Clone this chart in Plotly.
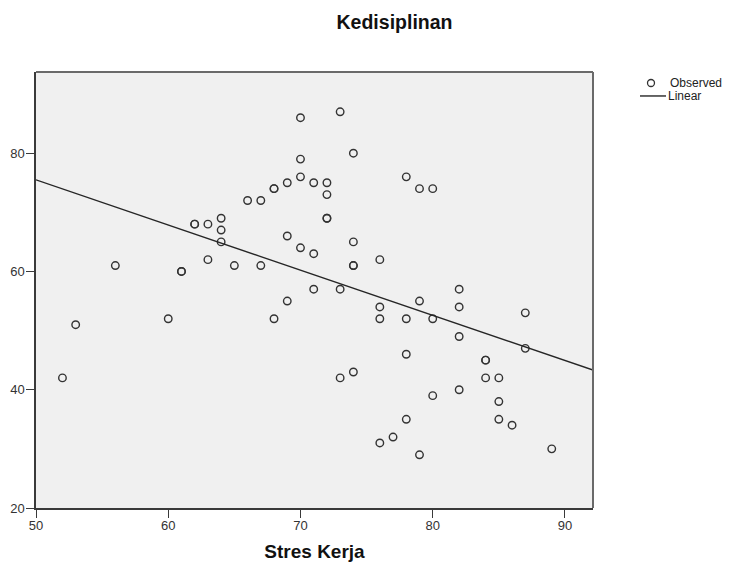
import numpy as np
import plotly.graph_objects as go

# Stres Kerja (x) vs Kedisiplinan (y)
stres_kerja = [52, 53, 56, 60, 61, 61, 62, 62, 63, 63, 64, 64, 64, 65, 66, 67, 67,
               68, 68, 68, 69, 69, 69, 70, 70, 70, 70, 71, 71, 71, 72, 72, 72, 72,
               73, 73, 73, 74, 74, 74, 74, 74, 76, 76, 76, 76, 77, 78, 78, 78, 78,
               79, 79, 79, 80, 80, 80, 82, 82, 82, 82, 84, 84, 84, 85, 85, 85, 86,
               87, 87, 89]
kedisiplinan = [42, 51, 61, 52, 60, 60, 68, 68, 68, 62, 69, 67, 65, 61, 72, 72, 61,
                74, 74, 52, 75, 66, 55, 86, 79, 76, 64, 75, 63, 57, 75, 73, 69, 69,
                87, 57, 42, 80, 65, 61, 61, 43, 62, 54, 52, 31, 32, 76, 52, 46, 35,
                74, 55, 29, 74, 52, 39, 57, 54, 49, 40, 45, 45, 42, 42, 38, 35, 34,
                53, 47, 30]

x_range = [50, 92.12]
y_range = [20, 93.73]

# linear fit
slope, intercept = np.polyfit(stres_kerja, kedisiplinan, 1)
fit_x = np.array(x_range)
fit_y = intercept + slope * fit_x

font = "Liberation Sans, Arial, sans-serif"

# the page body has an 8px margin, so figure coords = screen coords - 8
OFF = 8
W, H = 732, 567
L, T = 36 - OFF, 72 - OFF
R = W - (593 - OFF)
B = H - (508.5 - OFF)
pw, ph = W - L - R, H - T - B


def px(x):
    return (x - OFF - L) / pw


def py(y):
    return (H - B - (y - OFF)) / ph


fig = go.Figure()

fig.add_trace(go.Scatter(
    x=stres_kerja, y=kedisiplinan, mode="markers", name="Observed",
    marker=dict(symbol="circle-open", size=7.5, color="#333333", line=dict(width=1.4)),
    showlegend=False,
))

fig.add_trace(go.Scatter(
    x=fit_x, y=fit_y, mode="lines", name="Linear",
    line=dict(color="#262626", width=1.4),
    showlegend=False,
))

shapes = [
    # top and right frame, lighter than the axes
    dict(type="line", xref="paper", yref="paper", x0=0, x1=1, y0=1, y1=1,
         line=dict(color="#6a6a6a", width=2)),
    dict(type="line", xref="paper", yref="paper", x0=1, x1=1, y0=0, y1=1,
         line=dict(color="#6a6a6a", width=2)),
    # legend drawn by hand, SPSS style (tight rows)
    dict(type="circle", xref="paper", yref="paper", xsizemode="pixel", ysizemode="pixel",
         xanchor=px(651), yanchor=py(83), x0=-3.5, x1=3.5, y0=-3.5, y1=3.5,
         line=dict(color="#333333", width=1.3)),
    dict(type="line", xref="paper", yref="paper", x0=px(640), x1=px(666),
         y0=py(96), y1=py(96), line=dict(color="#262626", width=1.4)),
]
annotations = [
    dict(text="Observed", xref="paper", yref="paper", x=px(668), y=py(83),
         xanchor="left", yanchor="middle", showarrow=False,
         font=dict(size=12, color="#222222")),
    dict(text="Linear", xref="paper", yref="paper", x=px(666), y=py(96),
         xanchor="left", yanchor="middle", showarrow=False,
         font=dict(size=12, color="#222222")),
]

fig.update_layout(
    width=W, height=H,
    margin=dict(l=L, r=R, t=T, b=B),
    paper_bgcolor="white",
    plot_bgcolor="#f0f0f0",
    font=dict(family=font, size=13, color="#333333"),
    title=dict(text="<b>Kedisiplinan</b>", xref="container", x=(394.5 - OFF) / W,
               xanchor="center", y=1 - (22 - OFF) / H, yanchor="middle",
               font=dict(size=19.5, color="#111111")),
    showlegend=False,
    shapes=shapes,
    annotations=annotations,
)

fig.update_xaxes(
    range=x_range, tickvals=[50, 60, 70, 80, 90], ticks="outside", ticklen=8,
    tickcolor="#3a3a3a", showgrid=False, zeroline=False, automargin=False,
    showline=True, linecolor="#3a3a3a", linewidth=1.5,
    tickfont=dict(size=13, color="#333333"), ticklabelstandoff=-3,
    title=dict(text="<b>Stres Kerja</b>", font=dict(size=19, color="#111111"), standoff=12),
)
fig.update_yaxes(
    range=y_range, tickvals=[20, 40, 60, 80], ticks="outside", ticklen=8,
    tickcolor="#3a3a3a", showgrid=False, zeroline=False, automargin=False,
    showline=True, linecolor="#3a3a3a", linewidth=1.5,
    tickfont=dict(size=13, color="#333333"), ticklabelstandoff=-1,
)

fig.write_html("out.html")
